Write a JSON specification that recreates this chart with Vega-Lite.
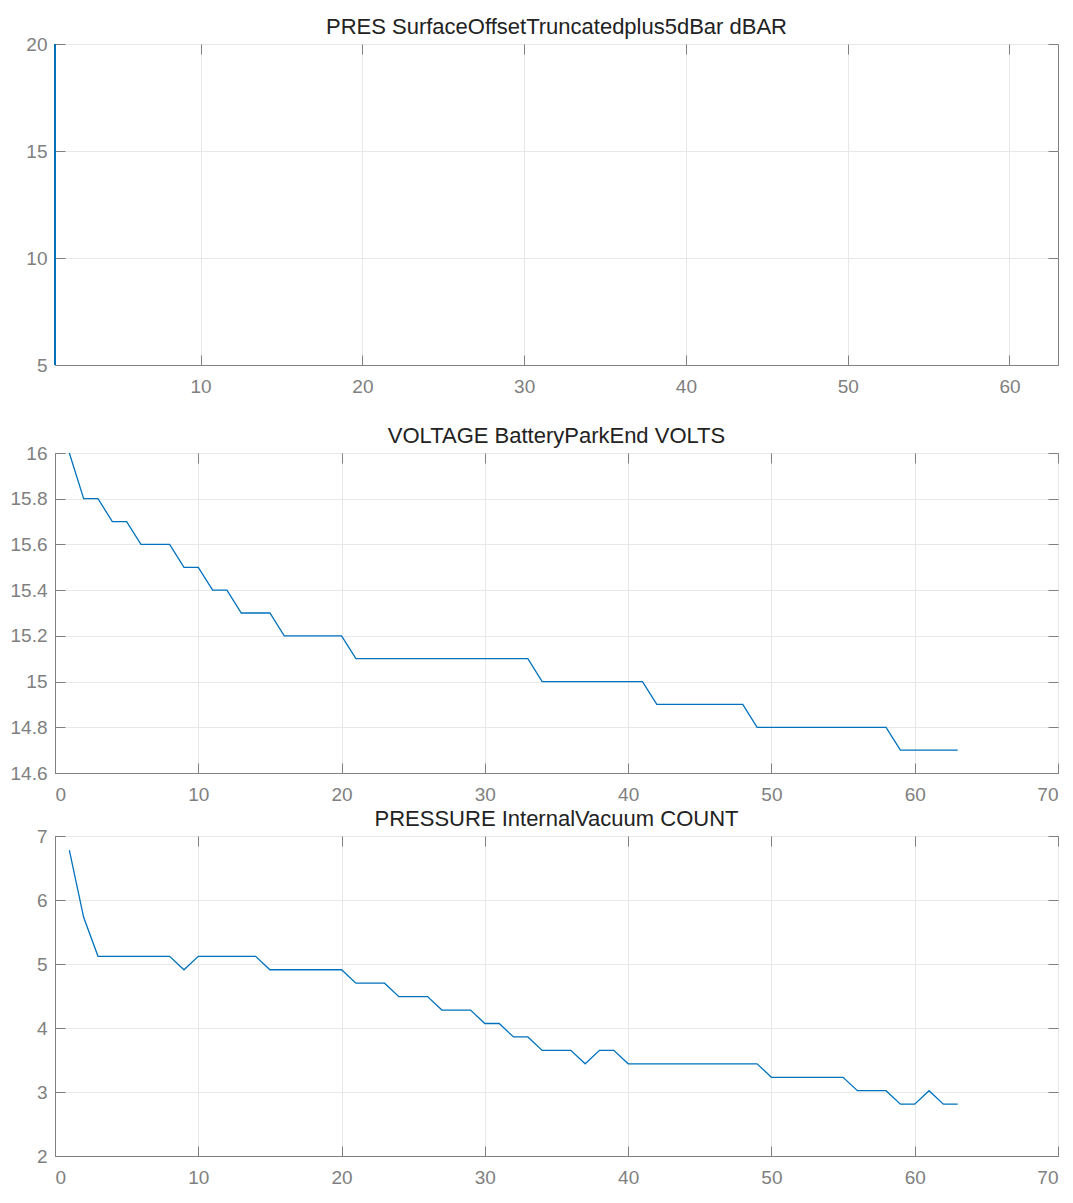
{
  "$schema": "https://vega.github.io/schema/vega-lite/v6.json",
  "padding": {"left": 9, "top": 15, "right": 5, "bottom": 5},
  "background": "white",
  "bounds": "flush",
  "spacing": 88,
  "config": {
    "font": "Liberation Sans",
    "view": {"stroke": "#808080", "strokeWidth": 1},
    "axis": {
      "labelFont": "Liberation Sans",
      "labelFontSize": 19,
      "labelColor": "#808080",
      "domainColor": "#808080",
      "tickColor": "#808080",
      "tickSize": -10,
      "gridColor": "#e8e8e8",
      "title": null,
      "labelPadding": 22
    },
    "axisLeft": {"labelPadding": 18},
    "title": {"font": "Liberation Sans", "fontSize": 22, "fontWeight": "normal", "color": "#222222", "offset": -4},
    "line": {"stroke": "#0072BD", "strokeWidth": 1.3}
  },
  "datasets": {
    "pres": [{"x": 1, "y": 5}, {"x": 1, "y": 20}],
    "volt": [
      {"x": 1, "y": 16.0}, {"x": 2, "y": 15.8}, {"x": 3, "y": 15.8}, {"x": 4, "y": 15.7}, {"x": 5, "y": 15.7},
      {"x": 6, "y": 15.6}, {"x": 7, "y": 15.6}, {"x": 8, "y": 15.6}, {"x": 9, "y": 15.5}, {"x": 10, "y": 15.5},
      {"x": 11, "y": 15.4}, {"x": 12, "y": 15.4}, {"x": 13, "y": 15.3}, {"x": 14, "y": 15.3}, {"x": 15, "y": 15.3},
      {"x": 16, "y": 15.2}, {"x": 17, "y": 15.2}, {"x": 18, "y": 15.2}, {"x": 19, "y": 15.2}, {"x": 20, "y": 15.2},
      {"x": 21, "y": 15.1}, {"x": 22, "y": 15.1}, {"x": 23, "y": 15.1}, {"x": 24, "y": 15.1}, {"x": 25, "y": 15.1},
      {"x": 26, "y": 15.1}, {"x": 27, "y": 15.1}, {"x": 28, "y": 15.1}, {"x": 29, "y": 15.1}, {"x": 30, "y": 15.1},
      {"x": 31, "y": 15.1}, {"x": 32, "y": 15.1}, {"x": 33, "y": 15.1}, {"x": 34, "y": 15.0}, {"x": 35, "y": 15.0},
      {"x": 36, "y": 15.0}, {"x": 37, "y": 15.0}, {"x": 38, "y": 15.0}, {"x": 39, "y": 15.0}, {"x": 40, "y": 15.0},
      {"x": 41, "y": 15.0}, {"x": 42, "y": 14.9}, {"x": 43, "y": 14.9}, {"x": 44, "y": 14.9}, {"x": 45, "y": 14.9},
      {"x": 46, "y": 14.9}, {"x": 47, "y": 14.9}, {"x": 48, "y": 14.9}, {"x": 49, "y": 14.8}, {"x": 50, "y": 14.8},
      {"x": 51, "y": 14.8}, {"x": 52, "y": 14.8}, {"x": 53, "y": 14.8}, {"x": 54, "y": 14.8}, {"x": 55, "y": 14.8},
      {"x": 56, "y": 14.8}, {"x": 57, "y": 14.8}, {"x": 58, "y": 14.8}, {"x": 59, "y": 14.7}, {"x": 60, "y": 14.7},
      {"x": 61, "y": 14.7}, {"x": 62, "y": 14.7}, {"x": 63, "y": 14.7}
    ],
    "vac": [
      {"x": 1, "y": 6.78}, {"x": 2, "y": 5.73}, {"x": 3, "y": 5.12}, {"x": 4, "y": 5.12}, {"x": 5, "y": 5.12},
      {"x": 6, "y": 5.12}, {"x": 7, "y": 5.12}, {"x": 8, "y": 5.12}, {"x": 9, "y": 4.91}, {"x": 10, "y": 5.12},
      {"x": 11, "y": 5.12}, {"x": 12, "y": 5.12}, {"x": 13, "y": 5.12}, {"x": 14, "y": 5.12}, {"x": 15, "y": 4.91},
      {"x": 16, "y": 4.91}, {"x": 17, "y": 4.91}, {"x": 18, "y": 4.91}, {"x": 19, "y": 4.91}, {"x": 20, "y": 4.91},
      {"x": 21, "y": 4.7}, {"x": 22, "y": 4.7}, {"x": 23, "y": 4.7}, {"x": 24, "y": 4.49}, {"x": 25, "y": 4.49},
      {"x": 26, "y": 4.49}, {"x": 27, "y": 4.28}, {"x": 28, "y": 4.28}, {"x": 29, "y": 4.28}, {"x": 30, "y": 4.07},
      {"x": 31, "y": 4.07}, {"x": 32, "y": 3.86}, {"x": 33, "y": 3.86}, {"x": 34, "y": 3.65}, {"x": 35, "y": 3.65},
      {"x": 36, "y": 3.65}, {"x": 37, "y": 3.44}, {"x": 38, "y": 3.65}, {"x": 39, "y": 3.65}, {"x": 40, "y": 3.44},
      {"x": 41, "y": 3.44}, {"x": 42, "y": 3.44}, {"x": 43, "y": 3.44}, {"x": 44, "y": 3.44}, {"x": 45, "y": 3.44},
      {"x": 46, "y": 3.44}, {"x": 47, "y": 3.44}, {"x": 48, "y": 3.44}, {"x": 49, "y": 3.44}, {"x": 50, "y": 3.23},
      {"x": 51, "y": 3.23}, {"x": 52, "y": 3.23}, {"x": 53, "y": 3.23}, {"x": 54, "y": 3.23}, {"x": 55, "y": 3.23},
      {"x": 56, "y": 3.02}, {"x": 57, "y": 3.02}, {"x": 58, "y": 3.02}, {"x": 59, "y": 2.81}, {"x": 60, "y": 2.81},
      {"x": 61, "y": 3.02}, {"x": 62, "y": 2.81}, {"x": 63, "y": 2.81}
    ]
  },
  "vconcat": [
    {
      "title": "PRES SurfaceOffsetTruncatedplus5dBar dBAR",
      "width": 1003,
      "height": 321,
      "data": {"name": "pres"},
      "layer": [
        {
          "mark": {"type": "line", "strokeWidth": 2},
          "encoding": {
            "x": {"field": "x", "type": "quantitative", "scale": {"domain": [1, 63], "nice": false, "zero": false},
                  "axis": {"orient": "bottom", "values": [10, 20, 30, 40, 50, 60], "grid": true}},
            "y": {"field": "y", "type": "quantitative", "scale": {"domain": [5, 20], "nice": false, "zero": false},
                  "axis": {"orient": "left", "values": [5, 10, 15, 20], "grid": true}}
          }
        },
        {
          "mark": {"type": "line", "strokeOpacity": 0},
          "encoding": {
            "x": {"field": "x", "type": "quantitative", "axis": {"orient": "top", "values": [10, 20, 30, 40, 50, 60], "labels": false, "grid": false, "domain": false}},
            "y": {"field": "y", "type": "quantitative", "axis": {"orient": "right", "values": [5, 10, 15, 20], "labels": false, "grid": false, "domain": false}}
          }
        }
      ],
      "resolve": {"axis": {"x": "independent", "y": "independent"}}
    },
    {
      "bounds": "flush",
      "spacing": 63,
      "vconcat": [
        {
          "title": "VOLTAGE BatteryParkEnd VOLTS",
          "width": 1003,
          "height": 320,
          "data": {"name": "volt"},
          "layer": [
            {
              "mark": {"type": "line"},
              "encoding": {
                "x": {"field": "x", "type": "quantitative", "scale": {"domain": [0, 70], "nice": false, "zero": false},
                      "axis": {"orient": "bottom", "values": [0, 10, 20, 30, 40, 50, 60, 70], "grid": true}},
                "y": {"field": "y", "type": "quantitative", "scale": {"domain": [14.6, 16], "nice": false, "zero": false},
                      "axis": {"orient": "left", "values": [14.6, 14.8, 15, 15.2, 15.4, 15.6, 15.8, 16], "format": ".1~f", "grid": true}}
              }
            },
            {
              "mark": {"type": "line", "strokeOpacity": 0},
              "encoding": {
                "x": {"field": "x", "type": "quantitative", "axis": {"orient": "top", "values": [0, 10, 20, 30, 40, 50, 60, 70], "labels": false, "grid": false, "domain": false}},
                "y": {"field": "y", "type": "quantitative", "axis": {"orient": "right", "values": [14.6, 14.8, 15, 15.2, 15.4, 15.6, 15.8, 16], "labels": false, "grid": false, "domain": false}}
              }
            }
          ],
          "resolve": {"axis": {"x": "independent", "y": "independent"}}
        },
        {
          "title": "PRESSURE InternalVacuum COUNT",
          "width": 1003,
          "height": 320,
          "data": {"name": "vac"},
          "layer": [
            {
              "mark": {"type": "line"},
              "encoding": {
                "x": {"field": "x", "type": "quantitative", "scale": {"domain": [0, 70], "nice": false, "zero": false},
                      "axis": {"orient": "bottom", "values": [0, 10, 20, 30, 40, 50, 60, 70], "grid": true}},
                "y": {"field": "y", "type": "quantitative", "scale": {"domain": [2, 7], "nice": false, "zero": false},
                      "axis": {"orient": "left", "values": [2, 3, 4, 5, 6, 7], "grid": true}}
              }
            },
            {
              "mark": {"type": "line", "strokeOpacity": 0},
              "encoding": {
                "x": {"field": "x", "type": "quantitative", "axis": {"orient": "top", "values": [0, 10, 20, 30, 40, 50, 60, 70], "labels": false, "grid": false, "domain": false}},
                "y": {"field": "y", "type": "quantitative", "axis": {"orient": "right", "values": [2, 3, 4, 5, 6, 7], "labels": false, "grid": false, "domain": false}}
              }
            }
          ],
          "resolve": {"axis": {"x": "independent", "y": "independent"}}
        }
      ]
    }
  ]
}
